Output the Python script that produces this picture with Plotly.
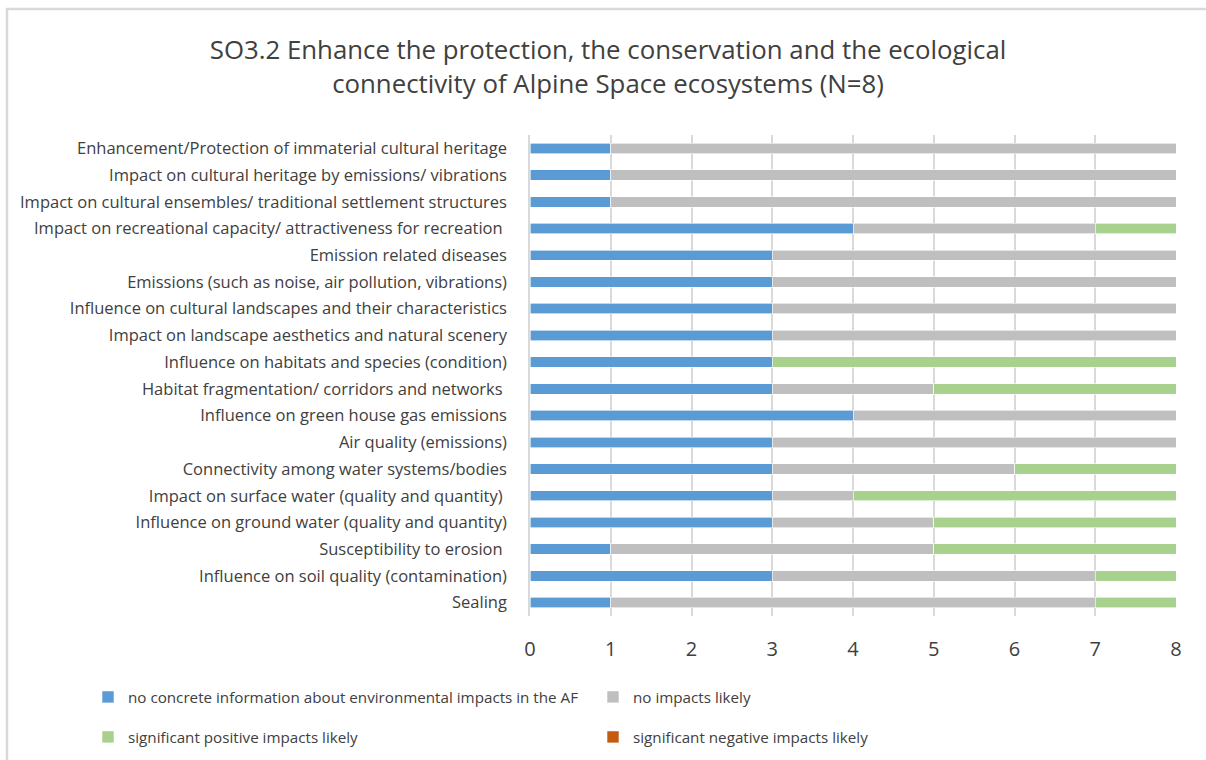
import plotly.graph_objects as go

# Assessment criteria (listed bottom to top as drawn on the category axis)
criteria = [
    "Sealing",
    "Influence on soil quality (contamination)",
    "Susceptibility to erosion ",
    "Influence on ground water (quality and quantity)",
    "Impact on surface water (quality and quantity) ",
    "Connectivity among water systems/bodies",
    "Air quality (emissions)",
    "Influence on green house gas emissions",
    "Habitat fragmentation/ corridors and networks ",
    "Influence on habitats and species (condition)",
    "Impact on landscape aesthetics and natural scenery",
    "Influence on cultural landscapes and their characteristics",
    "Emissions (such as noise, air pollution, vibrations)",
    "Emission related diseases",
    "Impact on recreational capacity/ attractiveness for recreation ",
    "Impact on cultural ensembles/ traditional settlement structures",
    "Impact on cultural heritage by emissions/ vibrations",
    "Enhancement/Protection of immaterial cultural heritage",
]

# Number of projects per assessment (N=8)
no_info = [1, 3, 1, 3, 3, 3, 3, 4, 3, 3, 3, 3, 3, 3, 4, 1, 1, 1]
no_impacts = [6, 4, 4, 2, 1, 3, 5, 4, 2, 0, 5, 5, 5, 5, 3, 7, 7, 7]
positive = [1, 1, 3, 3, 4, 2, 0, 0, 3, 5, 0, 0, 0, 0, 1, 0, 0, 0]
negative = [0, 0, 0, 0, 0, 0, 0, 0, 0, 0, 0, 0, 0, 0, 0, 0, 0, 0]

x_ticks = [0, 1, 2, 3, 4, 5, 6, 7, 8]

series = [
    ("no concrete information about environmental impacts in the AF", no_info, "#5B9BD5", "legend"),
    ("no impacts likely", no_impacts, "#BFBFBF", "legend"),
    ("significant positive impacts likely", positive, "#A9D18E", "legend2"),
    ("significant negative impacts likely", negative, "#C55A11", "legend2"),
]

FONT = "Open Sans"
TEXT = "#404040"

fig = go.Figure()
for name, vals, color, leg in series:
    fig.add_trace(go.Bar(
        y=criteria, x=vals, name=name, orientation="h",
        marker=dict(color=color, line=dict(color="white", width=0.6)),
        legend=leg,
    ))

W, H = 1206, 760
ml, mr, mt, mb = 530, 30, 135, 144
pw, ph = W - ml - mr, H - mt - mb


def px_x(p):
    return (p - ml) / pw


def px_y(p):
    return (H - mb - p) / ph


# Two single-row legends below the plot, two entries each
legend_common = dict(
    orientation="h", xref="paper", yref="paper",
    xanchor="left", yanchor="middle",
    entrywidth=460, entrywidthmode="pixels",
    font=dict(size=15.2, color=TEXT), itemwidth=30, traceorder="normal",
)

fig.update_layout(
    width=W, height=H,
    barmode="stack", bargap=0.61,
    margin=dict(l=ml, r=mr, t=mt, b=mb, autoexpand=False),
    paper_bgcolor="white", plot_bgcolor="white",
    font=dict(family=FONT, color=TEXT),
    title=dict(
        text="SO3.2 Enhance the protection, the conservation and the ecological<br>connectivity of Alpine Space ecosystems (N=8)",
        x=608 / W, xanchor="center", y=1 - 59 / H, yanchor="middle",
        font=dict(family=FONT, size=25.8, color=TEXT),
    ),
    xaxis=dict(
        range=[0, 8], tickvals=x_ticks, showgrid=True, gridcolor="#D9D9D9", gridwidth=1.5,
        zeroline=False, showline=False, tickfont=dict(size=20, color=TEXT),
        ticks="", ticklabelstandoff=19,
    ),
    yaxis=dict(
        categoryorder="array", categoryarray=criteria,
        showline=True, linecolor="#D9D9D9", linewidth=1.5,
        tickfont=dict(size=16.5, color=TEXT), ticks="", ticklabelstandoff=18,
    ),
    legend=dict(legend_common, x=px_x(88), y=px_y(697)),
    legend2=dict(legend_common, x=px_x(88), y=px_y(737)),
    shapes=[dict(
        type="rect", xref="paper", yref="paper", layer="below",
        x0=px_x(7), x1=px_x(W + 20), y0=px_y(9), y1=px_y(H + 20),
        line=dict(color="#D9D9D9", width=2.5), fillcolor="rgba(0,0,0,0)",
    )],
)

fig.write_html("out.html")
